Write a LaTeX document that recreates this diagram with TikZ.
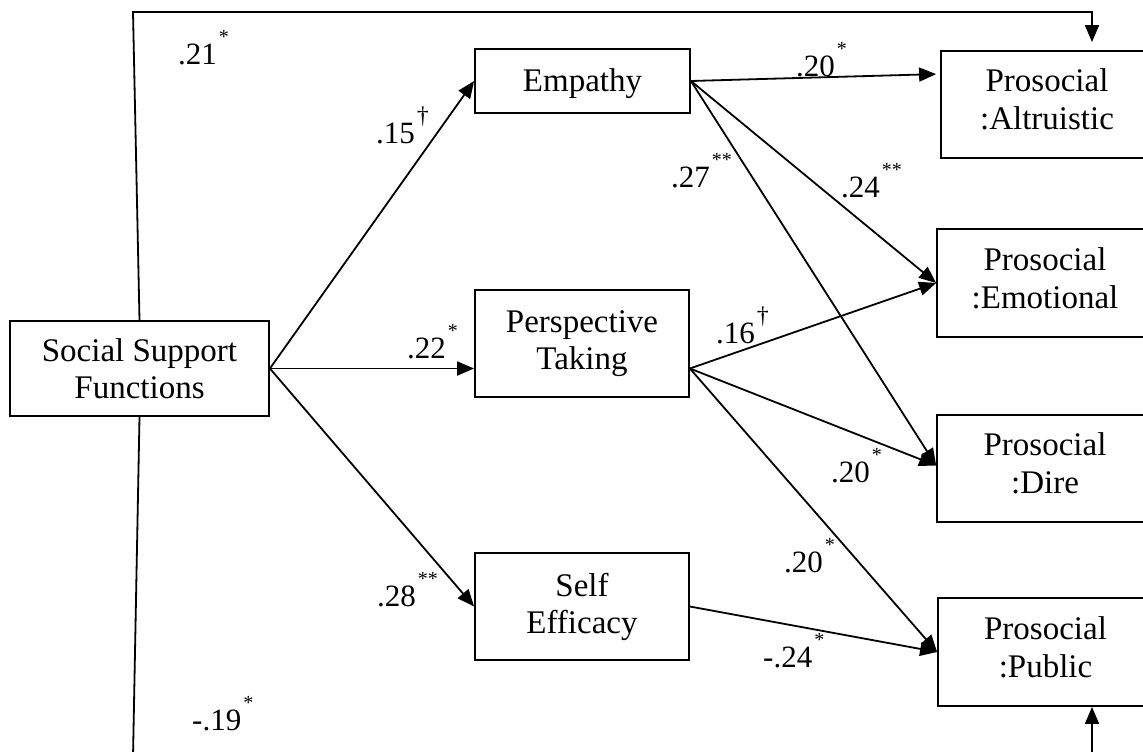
\documentclass[tikz,border=0pt]{standalone}
\usepackage{fontspec}
\setmainfont{Liberation Serif}
\usetikzlibrary{arrows.meta,calc}
\newcommand\sg[2]{#1\kern2pt\raisebox{21pt}{\fontsize{20}{20}\selectfont #2}}
\newcommand\sgd[2]{#1\kern2pt\raisebox{20pt}{\fontsize{24}{24}\selectfont #2}}
\begin{document}
\begin{tikzpicture}[x=1pt,y=-1pt,
 box/.style={draw, line width=1.8pt, inner sep=0pt, align=center, font=\fontsize{33}{37}\selectfont},
 pbox/.style={box, font=\fontsize{33}{38}\selectfont, text depth=10pt},
 arr/.style={line width=1.8pt, -{Triangle[length=17pt,width=14pt]}},
 lab/.style={anchor=base west, inner sep=0pt, font=\fontsize{31}{31}\selectfont}]
\useasboundingbox (0,0) rectangle (1143,752);
\clip (0,0) rectangle (1143,752);
% boxes
\node[box, minimum width=259pt, minimum height=95pt] (ss) at (139.5,368.5) {Social Support\\Functions};
\node[box, minimum width=215pt, minimum height=64pt, text depth=1pt] (emp) at (582.5,81) {Empathy};
\node[box, minimum width=214pt, minimum height=107pt] (pt) at (582,343.5) {Perspective\\Taking};
\node[box, minimum width=214pt, minimum height=107pt] (se) at (582,606.5) {Self\\Efficacy};
\node[pbox, minimum width=212pt, minimum height=107pt] (alt) at (1047,104.5) {Prosocial\\:Altruistic};
\node[pbox, minimum width=216pt, minimum height=108pt] (emo) at (1045,283) {Prosocial\\:Emotional};
\node[pbox, minimum width=216pt, minimum height=107pt] (dire) at (1045,468.5) {Prosocial\\:Dire};
\node[pbox, minimum width=215pt, minimum height=108pt] (pub) at (1045.5,652) {Prosocial\\:Public};
% coordinates of the outer paths
\coordinate (tl) at (133,12);
\coordinate (tr) at (1092,12);
\coordinate (bl) at (133,757);
\coordinate (br) at (1092,757);
% connectors
\draw[arr] (ss.east) -- (emp.west);
\draw[arr] (ss.east) -- (pt.west |- ss.east);
\draw[arr] (ss.east) -- (se.west);
\draw[arr] (emp.east) -- ($(alt.north west)+(-4,24)$);
\draw[arr] (emp.east) -- (emo.west);
\draw[arr] (emp.east) -- ($(dire.west)+(0,-3)$);
\draw[arr] (pt.east |- ss.east) -- (emo.west);
\draw[arr] (pt.east |- ss.east) -- ($(dire.west)+(0,-3)$);
\draw[arr] (pt.east |- ss.east) -- (pub.west);
\draw[arr] (se.east) -- (pub.west);
\draw[arr] (ss.north) -- (tl) -- (tr) -- ($(tr |- alt.north)+(0,-8)$);
\draw[arr] (ss.south) -- (bl) -- (br) -- (br |- pub.south);
% labels
\node[lab] (l21) at (178,65) {\sg{.21}{*}};
\node[lab] (l15) at (376,143) {\sgd{.15}{†}};
\node[lab] (l20a) at (796,77) {\sg{.20}{*}};
\node[lab] (l27) at (671,187) {\sg{.27}{**}};
\node[lab] (l24) at (841,197) {\sg{.24}{**}};
\node[lab] (l22) at (407,358) {\sg{.22}{*}};
\node[lab] (l16) at (716,343) {\sgd{.16}{†}};
\node[lab] (l20d) at (831,482) {\sg{.20}{*}};
\node[lab] (l20p) at (784,572) {\sg{.20}{*}};
\node[lab] (l28) at (377,606) {\sg{.28}{**}};
\node[lab] (l24n) at (763,667) {\sg{-.24}{*}};
\node[lab] (l19) at (192,730) {\sg{-.19}{*}};
\end{tikzpicture}
\end{document}
